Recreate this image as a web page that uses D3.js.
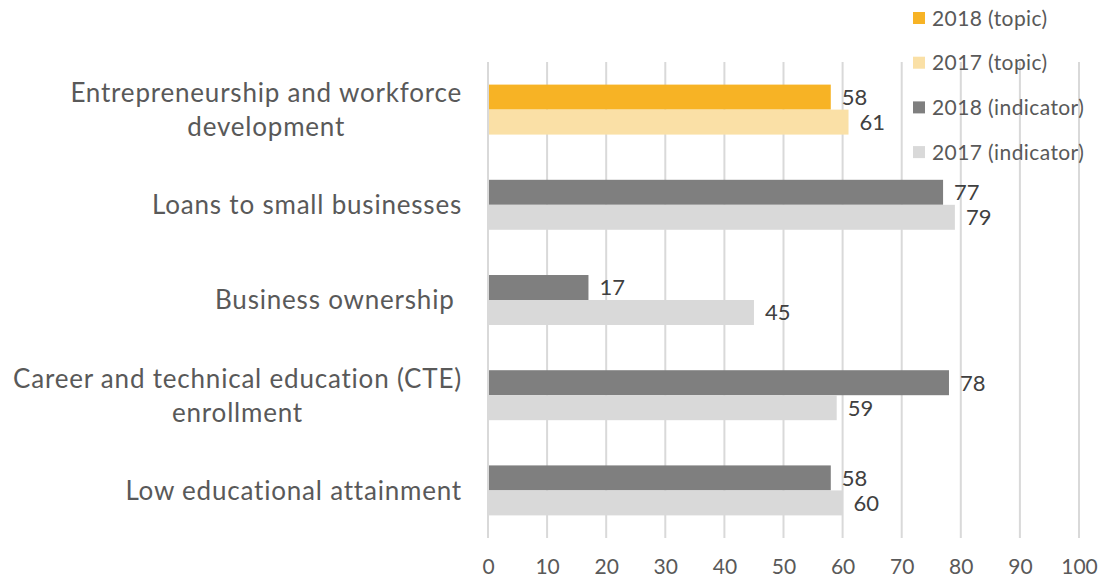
<!DOCTYPE html>
<html>
<head>
<meta charset="utf-8">
<script src="https://cdn.jsdelivr.net/npm/d3@7"></script>
<style>
  html, body { margin: 0; padding: 0; background: #fff; }
  svg { display: block; font-family: Lato, "Noto Sans", sans-serif; }
</style>
</head>
<body>
<svg id="chart" width="1099" height="579"></svg>
<script>
// ---- data ----
const categories = [
  "Entrepreneurship and workforce\ndevelopment",
  "Loans to small businesses",
  "Business ownership ",
  "Career and technical education (CTE)\nenrollment",
  "Low educational attainment"
];
const categoryType = ["topic", "indicator", "indicator", "indicator", "indicator"];
const values2018 = [58, 77, 17, 78, 58];
const values2017 = [61, 79, 45, 59, 60];
const xTicks = [0, 10, 20, 30, 40, 50, 60, 70, 80, 90, 100];
const legendLabels = ["2018 (topic)", "2017 (topic)", "2018 (indicator)", "2017 (indicator)"];
const legendColors = ["#F7B325", "#FAE0A6", "#7F7F7F", "#D9D9D9"];
const colors = {
  topic: { "2018": "#F7B325", "2017": "#FAE0A6" },
  indicator: { "2018": "#7F7F7F", "2017": "#D9D9D9" }
};
const years = ["2018", "2017"];

// ---- layout ----
const svg = d3.select("#chart");
const x = d3.scaleLinear().domain([0, 100]).range([488, 1079]);
const y = d3.scaleBand().domain(categories).range([62, 538])
  .paddingInner(0.475).paddingOuter(0.2375);
const ySub = d3.scaleBand().domain(years).range([0, y.bandwidth()]);

// gridlines
svg.append("g").selectAll("line").data(xTicks).join("line")
  .attr("x1", d => x(d)).attr("x2", d => x(d))
  .attr("y1", 62).attr("y2", 538)
  .attr("stroke", "#D9D9D9").attr("stroke-width", 2);

// bars
const rows = categories.map((c, i) => ({ cat: c, type: categoryType[i], "2018": values2018[i], "2017": values2017[i] }));
const g = svg.append("g").selectAll("g").data(rows).join("g")
  .attr("transform", d => `translate(0,${y(d.cat)})`);
g.selectAll("rect").data(d => years.map(yr => ({ yr, v: d[yr], type: d.type }))).join("rect")
  .attr("x", x(0) + 1)
  .attr("y", d => ySub(d.yr))
  .attr("width", d => x(d.v) - x(0) - 1)
  .attr("height", ySub.bandwidth())
  .attr("fill", d => colors[d.type][d.yr]);
g.selectAll("text").data(d => years.map(yr => ({ yr, v: d[yr] }))).join("text")
  .attr("x", d => x(d.v) + 11)
  .attr("y", d => ySub(d.yr) + ySub.bandwidth() / 2)
  .attr("dy", "0.36em")
  .attr("font-size", 22)
  .attr("fill", "#404040")
  .text(d => d.v);

// category labels
const catG = svg.append("g");
categories.forEach(c => {
  const lines = c.split("\n");
  const cy = y(c) + y.bandwidth() / 2;
  const lh = 34;
  const t = catG.append("text")
    .attr("font-size", 26)
    .attr("letter-spacing", 0.8)
    .attr("fill", "#595959")
    .style("white-space", "pre");
  lines.forEach((ln, i) => {
    t.append("tspan")
      .attr("y", cy + (i - (lines.length - 1) / 2) * lh)
      .attr("dy", "0.36em")
      .text(ln);
  });
  const tspans = t.selectAll("tspan").nodes();
  const widths = tspans.map(n => n.getComputedTextLength());
  const maxW = Math.max(...widths);
  const right = 462;
  const center = right - maxW / 2;
  t.selectAll("tspan").attr("x", center).attr("text-anchor", "middle");
});

// x axis tick labels
const axis = d3.axisBottom(x).tickValues(xTicks).tickSize(0).tickPadding(0);
const ax = svg.append("g").attr("transform", "translate(0,558)").call(axis);
ax.select(".domain").remove();
ax.selectAll("text").attr("font-size", 21).attr("fill", "#595959")
  .attr("font-family", "Lato, 'Noto Sans', sans-serif").attr("dy", "0.75em");

// legend
const lg = svg.append("g").selectAll("g").data(legendLabels).join("g")
  .attr("transform", (d, i) => `translate(913,${18 + i * 44.7})`);
lg.append("rect").attr("x", 0).attr("y", -6).attr("width", 12).attr("height", 12)
  .attr("fill", (d, i) => legendColors[i]);
lg.append("text").attr("x", 19).attr("dy", "0.36em")
  .attr("font-size", 21).attr("letter-spacing", 0.4)
  .attr("fill", "#595959").text(d => d);
</script>
</body>
</html>
